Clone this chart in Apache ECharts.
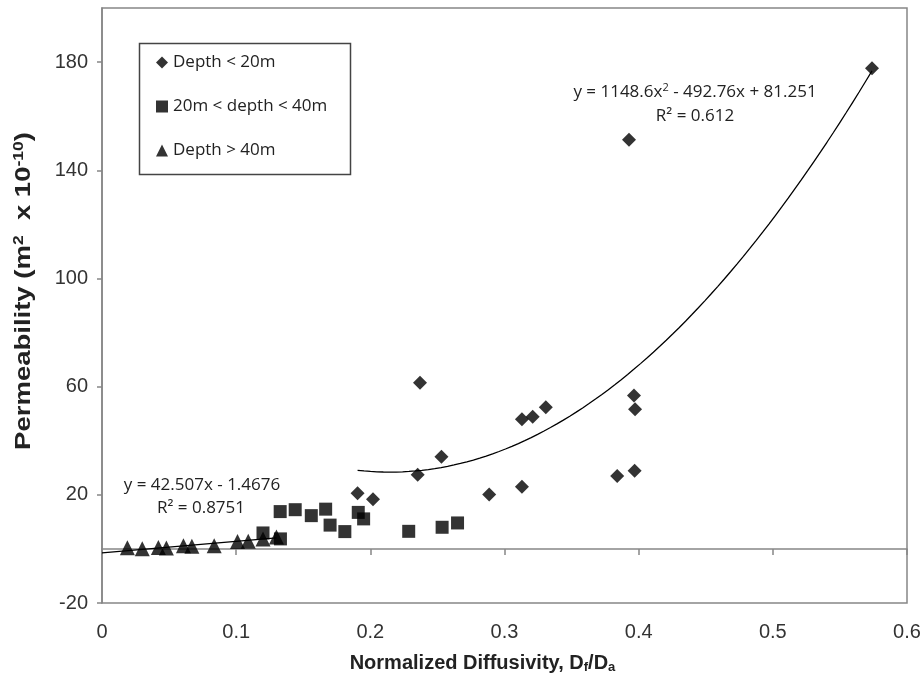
<!DOCTYPE html>
<html>
<head>
<meta charset="utf-8">
<script src="https://cdn.jsdelivr.net/npm/echarts@6/dist/echarts.min.js"></script>
<style>html,body{margin:0;padding:0;background:#fff}#c{width:924px;height:683px}</style>
</head>
<body>
<div id="c"></div>
<script>
// ---- data ----
const shallowX = [0.1905, 0.202, 0.2353, 0.237, 0.253, 0.2886, 0.313, 0.313, 0.321, 0.3308, 0.384, 0.3928, 0.3965, 0.3973, 0.397, 0.5739];
const shallowY = [20.6, 18.4, 27.4, 61.4, 34.1, 20.1, 23.0, 47.9, 48.9, 52.4, 27.0, 151.3, 56.7, 51.6, 28.9, 177.7];
const midX = [0.120, 0.1328, 0.133, 0.144, 0.156, 0.1667, 0.170, 0.181, 0.191, 0.195, 0.2286, 0.2535, 0.265];
const midY = [5.9, 13.8, 3.7, 14.5, 12.3, 14.7, 8.8, 6.4, 13.5, 11.1, 6.5, 8.0, 9.6];
const deepX = [0.0189, 0.030, 0.042, 0.048, 0.0607, 0.067, 0.0836, 0.101, 0.109, 0.120, 0.130];
const deepY = [0.4, 0.1, 0.5, 0.3, 1.2, 1.0, 1.2, 2.7, 2.8, 3.7, 4.4];
const seriesNames = ['Depth < 20m', '20m < depth < 40m', 'Depth > 40m'];
// trend line coefficients as printed on the chart
const quadCoef = [1148.6, -492.76, 81.251];   // a x^2 + b x + c
const linCoef = [42.507, -1.4676];            // m x + k
const linRange = [0, 0.13];
const yTicks = [-20, 20, 60, 100, 140, 180];

function pairs(xs, ys) { return xs.map((x, i) => [x, ys[i]]); }
function quadLine() {
  const x0 = Math.min(...shallowX), x1 = Math.max(...shallowX);
  const pts = [];
  const n = 80;
  for (let i = 0; i <= n; i++) {
    const x = x0 + (x1 - x0) * i / n;
    pts.push([x, quadCoef[0] * x * x + quadCoef[1] * x + quadCoef[2]]);
  }
  return pts;
}
function linLine() {
  return linRange.map(x => [x, linCoef[0] * x + linCoef[1]]);
}

const FONT = '"Open Sans", Lato, sans-serif';
const NARROW = '"Liberation Sans Narrow", "Liberation Sans", Arial, sans-serif';
const WIDE = '"Liberation Sans", Arial, sans-serif';
const grey = '#868686';

const chart = echarts.init(document.getElementById('c'), null, {renderer: 'canvas'});
chart.setOption({
  animation: false,
  backgroundColor: '#fff',
  grid: {left: 102, right: 17, top: 8, bottom: 80, show: true, borderColor: grey, borderWidth: 1.5, containLabel: false},
  legend: {
    orient: 'vertical', left: 156, top: 54, padding: 0, itemGap: 27,
    itemWidth: 12, itemHeight: 12,
    data: seriesNames,
    textStyle: {fontFamily: FONT, fontSize: 17, color: '#222'}
  },
  xAxis: [
    {
      type: 'value', min: 0, max: 0.6, interval: 0.1, position: 'bottom',
      axisLine: {show: false, onZero: false}, axisTick: {show: false}, splitLine: {show: false},
      axisLabel: {margin: 19, fontFamily: NARROW, fontSize: 20, color: '#333'},
      name: 'Normalized Diffusivity, D{sub|f}/D{sub|a}', nameLocation: 'middle', nameGap: 49,
      nameTextStyle: {fontFamily: NARROW, fontWeight: 'bold', fontSize: 20, color: '#222', padding: [0, 44, 0, 0],
        rich: {sub: {fontFamily: NARROW, fontWeight: 'bold', fontSize: 13, color: '#222', verticalAlign: 'bottom', padding: [9, 0, 0, 0]}}}
    },
    {
      type: 'value', min: 0, max: 0.6, interval: 0.1,
      axisLine: {show: true, onZero: true, lineStyle: {color: grey, width: 1.5}},
      axisTick: {show: true, inside: true, length: 6, lineStyle: {color: grey, width: 1.5}},
      axisLabel: {show: false}, splitLine: {show: false}
    }
  ],
  yAxis: {
    type: 'value', min: -20, max: 200, interval: 20,
    axisLine: {show: true, onZero: false, lineStyle: {color: grey, width: 1.5}},
    axisTick: {show: true, length: 5, customValues: yTicks, lineStyle: {color: grey, width: 1.5}},
    axisLabel: {margin: 14, customValues: yTicks, fontFamily: NARROW, fontSize: 20, color: '#333'},
    splitLine: {show: false}
  },
  series: [
    {name: seriesNames[0], type: 'scatter', xAxisIndex: 0, symbol: 'diamond', symbolSize: 14,
      itemStyle: {color: '#000'}, data: pairs(shallowX, shallowY)},
    {name: seriesNames[1], type: 'scatter', xAxisIndex: 0, symbol: 'rect', symbolSize: 13,
      itemStyle: {color: '#000'}, data: pairs(midX, midY)},
    {name: seriesNames[2], type: 'scatter', xAxisIndex: 0, symbol: 'triangle', symbolSize: 15,
      itemStyle: {color: '#000'}, data: pairs(deepX, deepY)},
    {name: 'poly', type: 'line', xAxisIndex: 0, showSymbol: false, symbol: 'none', smooth: false,
      lineStyle: {color: '#000', width: 1.3}, data: quadLine(), z: 3},
    {name: 'lin', type: 'line', xAxisIndex: 0, showSymbol: false, symbol: 'none',
      lineStyle: {color: '#000', width: 1.3}, data: linLine(), z: 3}
  ],
  graphic: [
    {type: 'text', x: 24, y: 291, rotation: Math.PI / 2, scaleX: 1.25, z: 100, style: {
      text: 'Permeability (m{sup|2}  x 10{sup|-10})', align: 'center', verticalAlign: 'middle',
      fontFamily: WIDE, fontWeight: 'bold', fontSize: 22, fill: '#222',
      rich: {sup: {fontFamily: WIDE, fontWeight: 'bold', fontSize: 14, fill: '#222', verticalAlign: 'top', padding: [0, 0, 10, 0]}}}},
    {type: 'rect', left: 137, top: 41, shape: {width: 211, height: 131},
      style: {fill: 'none', stroke: '#444', lineWidth: 1.5}, z: 100},
    {type: 'text', x: 695, y: 92, z: 100, style: {
      text: 'y = 1148.6x{sup|2} - 492.76x + 81.251', align: 'center', verticalAlign: 'middle',
      fontFamily: FONT, fontSize: 17, fill: '#222',
      rich: {sup: {fontFamily: FONT, fontSize: 11, fill: '#222', verticalAlign: 'top', padding: [0, 0, 9, 0]}}}},
    {type: 'text', x: 695, y: 116, z: 100, style: {
      text: 'R² = 0.612', align: 'center', verticalAlign: 'middle', fontFamily: FONT, fontSize: 17, fill: '#222'}},
    {type: 'text', x: 202, y: 485, z: 100, style: {
      text: 'y = 42.507x - 1.4676', align: 'center', verticalAlign: 'middle', fontFamily: FONT, fontSize: 17, fill: '#222'}},
    {type: 'text', x: 201, y: 508, z: 100, style: {
      text: 'R² = 0.8751', align: 'center', verticalAlign: 'middle', fontFamily: FONT, fontSize: 17, fill: '#222'}}
  ]
});
</script>
</body>
</html>
